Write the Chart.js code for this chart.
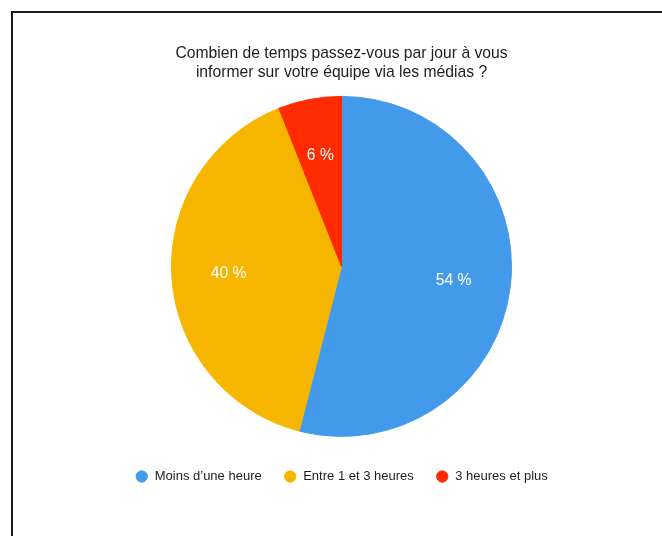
<!DOCTYPE html>
<html>
<head>
<meta charset="utf-8">
<script src="https://cdn.jsdelivr.net/npm/chart.js@4/dist/chart.umd.min.js"></script>
<style>
  html, body { margin: 0; padding: 0; background: #fff; }
  #wrap { position: relative; width: 662px; height: 536px; overflow: hidden; }
  #frame {
    position: absolute; left: 11px; top: 11px; width: 700px; height: 600px;
    border-left: 2px solid #1c1c1c; border-top: 2px solid #1c1c1c;
  }
  canvas { position: absolute; left: 0; top: 0; }
</style>
</head>
<body>
<div id="wrap">
  <div id="frame"></div>
  <canvas id="chart" width="662" height="536"></canvas>
</div>
<script>
// values, in percent
const categories = ["Moins d’une heure", "Entre 1 et 3 heures", "3 heures et plus"]
const shares     = [54, 40, 6]
const colors     = ["#4399EA", "#F6B600", "#FE2A00"]
const titleLines = ["Combien de temps passez-vous par jour à vous", "informer sur votre équipe via les médias ?"]

const FONT = '"Liberation Sans", Arial, Helvetica, sans-serif'

// white percentage labels inside each slice
const sliceLabels = {
  id: "sliceLabels",
  afterDatasetsDraw(chart) {
    const { ctx } = chart
    const meta = chart.getDatasetMeta(0)
    ctx.save()
    ctx.fillStyle = "#ffffff"
    ctx.font = "15.7px " + FONT
    ctx.textAlign = "center"
    ctx.textBaseline = "middle"
    meta.data.forEach((arc, i) => {
      const { x, y, startAngle, endAngle, outerRadius } =
        arc.getProps(["x", "y", "startAngle", "endAngle", "outerRadius"], true)
      const mid = (startAngle + endAngle) / 2
      const r = outerRadius * 0.665
      ctx.fillText(shares[i] + " %", x + Math.cos(mid) * r, y + Math.sin(mid) * r)
    })
    ctx.restore()
  }
}

new Chart(document.getElementById("chart").getContext("2d"), {
  type: "pie",
  data: {
    labels: categories,
    datasets: [{
      data: shares,
      backgroundColor: colors,
      borderColor: colors,
      borderWidth: 1,
      radius: 170
    }]
  },
  options: {
    responsive: false,
    animation: false,
    devicePixelRatio: 1,
    layout: { padding: { left: 21, right: 0, top: 44, bottom: 43 } },
    plugins: {
      tooltip: { enabled: false },
      title: {
        display: true,
        text: titleLines,
        color: "#1e1e1e",
        font: { family: FONT, size: 15.7, weight: "normal", lineHeight: "19px" },
        padding: { top: 0, bottom: 2.8 }
      },
      legend: {
        position: "bottom",
        labels: {
          color: "#1e1e1e",
          font: { family: FONT, size: 13 },
          usePointStyle: true,
          pointStyle: "circle",
          boxHeight: 8,
          padding: 22
        }
      }
    }
  },
  plugins: [sliceLabels]
})
</script>
</body>
</html>
